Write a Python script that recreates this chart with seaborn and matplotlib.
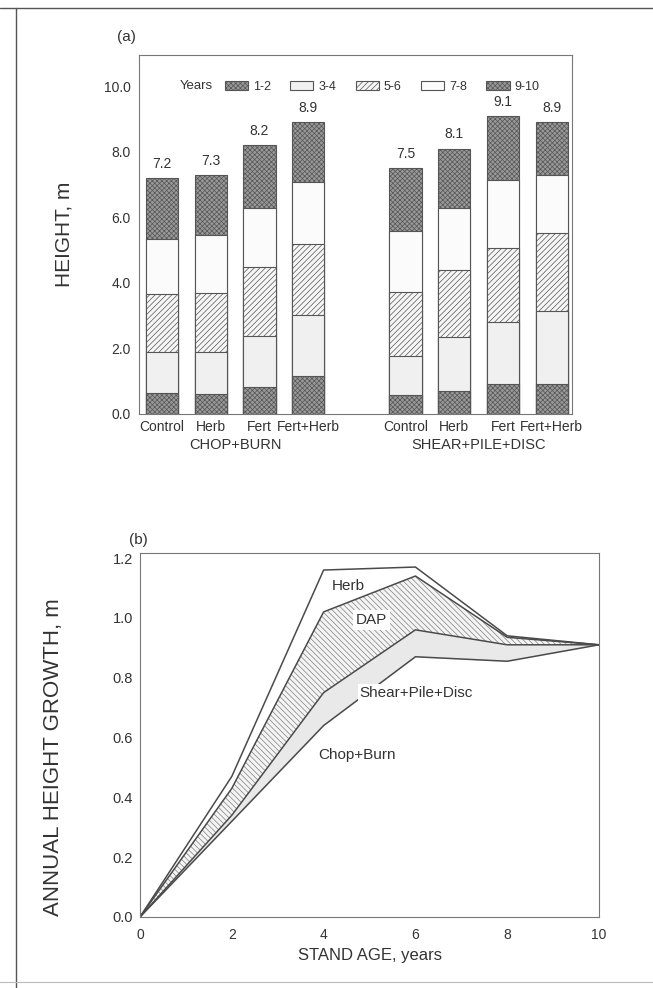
import numpy as np
import pandas as pd
import matplotlib
matplotlib.use("Agg")
import matplotlib.pyplot as plt
from matplotlib.patches import Patch
from matplotlib.lines import Line2D
import seaborn as sns

# ---- data: panel (a) stacked height by age class ----
treatments = ["Control", "Herb", "Fert", "Fert+Herb",
              "Control", "Herb", "Fert", "Fert+Herb"]
bar_pos = [0, 1, 2, 3, 5, 6, 7, 8]
years = ["1-2", "3-4", "5-6", "7-8", "9-10"]
# cumulative height at the top of each age class
top_1_2 = [0.65, 0.61, 0.81, 1.16, 0.58, 0.69, 0.92, 0.91]
top_3_4 = [1.88, 1.90, 2.39, 3.02, 1.78, 2.36, 2.82, 3.15]
top_5_6 = [3.65, 3.68, 4.48, 5.19, 3.71, 4.38, 5.08, 5.52]
top_7_8 = [5.33, 5.47, 6.28, 7.08, 5.59, 6.28, 7.14, 7.30]
totals = [7.2, 7.3, 8.2, 8.9, 7.5, 8.1, 9.1, 8.9]
groups = ["CHOP+BURN", "SHEAR+PILE+DISC"]

# ---- data: panel (b) annual height growth ----
age = [0, 2, 4, 6, 8, 10]
herb = [0.0, 0.47, 1.16, 1.17, 0.94, 0.91]
dap = [0.0, 0.43, 1.02, 1.14, 0.935, 0.91]
spd = [0.0, 0.34, 0.75, 0.96, 0.91, 0.91]
chop_burn = [0.0, 0.32, 0.64, 0.87, 0.855, 0.91]

sns.set_style("white")
plt.rcParams["font.family"] = ["Liberation Sans", "DejaVu Sans"]
plt.rcParams["hatch.linewidth"] = 0.5

edge = "#555555"
styles = {
    "1-2": dict(color="#999999", hatch="xxxxxxx"),
    "3-4": dict(color="#f0f0f0", hatch=None),
    "5-6": dict(color="#f6f6f6", hatch="//////"),
    "7-8": dict(color="#fbfbfb", hatch=None),
    "9-10": dict(color="#999999", hatch="xxxxxxx"),
}

fig = plt.figure(figsize=(6.53, 9.88), dpi=100)

# page frame lines from the scan
fig.add_artist(Line2D([0.0, 1.0], [0.992, 0.992], color="#555555", lw=1.0))
fig.add_artist(Line2D([0.025, 0.025], [0.0, 0.992], color="#555555", lw=1.0))
fig.add_artist(Line2D([0.0, 1.0], [0.006, 0.006], color="#bbbbbb", lw=0.8))

# ---------------- panel (a) ----------------
ax1 = fig.add_axes([0.2129, 0.581, 0.6631, 0.3634])
layers = [("9-10", totals), ("7-8", top_7_8), ("5-6", top_5_6),
          ("3-4", top_3_4), ("1-2", top_1_2)]
for name, vals in layers:
    df = pd.DataFrame({"pos": bar_pos, "h": vals})
    st = styles[name]
    sns.barplot(data=df, x="pos", y="h", native_scale=True, ax=ax1,
                color=st["color"], hatch=st["hatch"], saturation=1,
                width=0.66, edgecolor=edge, linewidth=0.8, errorbar=None)

for p, t in zip(bar_pos, totals):
    ax1.text(p, t + 0.22, f"{t:.1f}", ha="center", va="bottom",
             fontsize=10, color="#333333")

ax1.set_xlim(-0.473, 8.42)
ax1.set_ylim(0, 10.96)
ax1.set_yticks(np.arange(0, 10.1, 2.0))
ax1.set_yticklabels([f"{v:.1f}" for v in np.arange(0, 10.1, 2.0)])
ax1.set_xticks(bar_pos)
ax1.set_xticklabels(treatments)
ax1.tick_params(axis="y", direction="out", length=4, width=0.8,
                colors="#555555", labelcolor="#333333", labelsize=10, pad=2)
ax1.tick_params(axis="x", length=0, labelsize=10, labelcolor="#333333", pad=4)
ax1.set_xlabel("")
ax1.set_ylabel("HEIGHT, m", fontsize=15, color="#333333", labelpad=22)
for s in ax1.spines.values():
    s.set_color("#777777")
    s.set_linewidth(0.8)

ax1.text(1.5, -0.068, groups[0], transform=ax1.get_xaxis_transform(),
         ha="center", va="top", fontsize=10.5, color="#333333")
ax1.text(6.5, -0.068, groups[1], transform=ax1.get_xaxis_transform(),
         ha="center", va="top", fontsize=10.5, color="#333333")
ax1.text(-0.05, 1.05, "(a)", transform=ax1.transAxes, ha="left",
         va="center", fontsize=11, color="#333333")

ax1.text(0.095, 0.914, "Years", transform=ax1.transAxes, ha="left",
         va="center", fontsize=9.5, color="#333333")
handles = [Patch(facecolor=styles[y]["color"], hatch=styles[y]["hatch"],
                 edgecolor=edge, linewidth=0.8) for y in years]
ax1.legend(handles, years, loc="center left", bbox_to_anchor=(0.198, 0.91),
           ncol=5, frameon=False, fontsize=9, handlelength=1.85,
           handleheight=0.7, handletextpad=0.4, columnspacing=1.55,
           borderpad=0, borderaxespad=0, labelcolor="#333333")

# ---------------- panel (b) ----------------
ax2 = fig.add_axes([0.2144, 0.0719, 0.703, 0.3684])
ax2.fill_between(age, dap, spd, facecolor="#f4f4f4", hatch="\\\\\\\\\\\\",
                 edgecolor="#808080", linewidth=0)
ax2.fill_between(age, spd, chop_burn, facecolor="#e9e9e9", linewidth=0)
for series in [herb, dap, spd, chop_burn]:
    sns.lineplot(x=age, y=series, ax=ax2, color="#4a4a4a", lw=1.1)

lab_kw = dict(fontsize=11, color="#333333", ha="center", va="center")
ax2.text(4.53, 1.105, "Herb", **lab_kw)
ax2.text(5.05, 0.993, "DAP", bbox=dict(facecolor="white", edgecolor="none",
                                       pad=2), **lab_kw)
ax2.text(6.02, 0.75, "Shear+Pile+Disc",
         bbox=dict(facecolor="white", edgecolor="none", pad=1), **lab_kw)
ax2.text(4.73, 0.54, "Chop+Burn", **lab_kw)

ax2.set_xlim(0, 10)
ax2.set_ylim(0, 1.217)
ax2.set_xticks(range(0, 11, 2))
ax2.set_yticks(np.arange(0, 1.21, 0.2))
ax2.set_yticklabels([f"{v:.1f}" for v in np.arange(0, 1.21, 0.2)])
ax2.tick_params(axis="x", direction="in", length=4, width=0.8,
                colors="#555555", labelcolor="#333333", labelsize=10, pad=8)
ax2.tick_params(axis="y", direction="out", length=3, width=0.8,
                colors="#555555", labelcolor="#333333", labelsize=10.5, pad=2)
ax2.set_xlabel("STAND AGE, years", fontsize=12, color="#333333", labelpad=4)
ax2.set_ylabel("ANNUAL HEIGHT GROWTH, m", fontsize=16, color="#333333",
               labelpad=20)
ax2.yaxis.set_label_coords(-0.165, 0.44)
for s in ax2.spines.values():
    s.set_color("#777777")
    s.set_linewidth(0.8)
ax2.text(-0.004, 1.035, "(b)", transform=ax2.transAxes, ha="center",
         va="center", fontsize=11, color="#333333")

fig.savefig("out.png", dpi=100)
